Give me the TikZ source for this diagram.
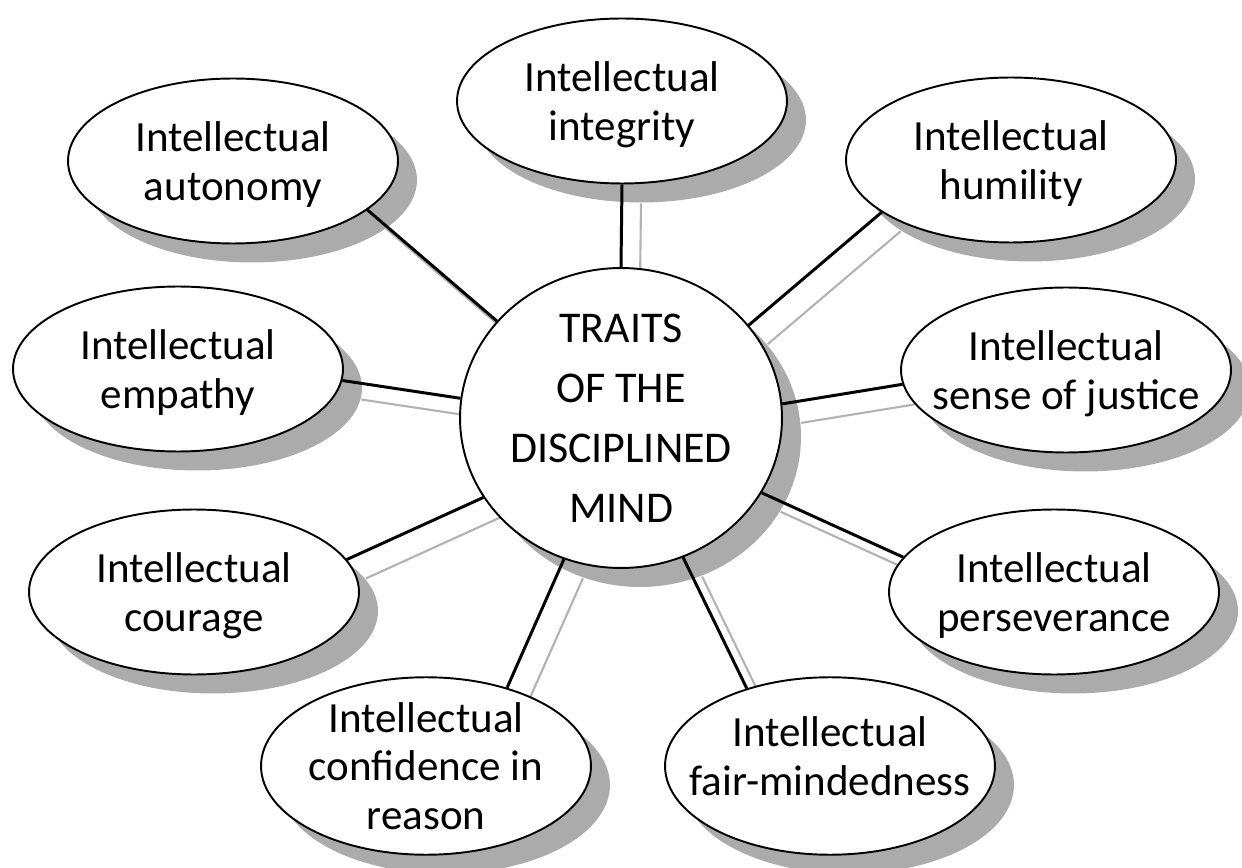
\documentclass[tikz,border=0pt]{standalone}
\usepackage{fontspec}
\setmainfont{Carlito}
\usetikzlibrary{shapes,positioning,shadows}
\usetikzlibrary{backgrounds}

\begin{document}
\begin{tikzpicture}[x=0.02cm,y=-0.02cm,
    trait/.style={ellipse, draw=black, line width=1.1pt, fill=white,
      minimum width=6.6cm, minimum height=3.3cm, inner xsep=-0.6cm, inner ysep=-0.2cm,
      align=center, text depth=0pt, font=\fontsize{24.5}{27.5}\selectfont,
      drop shadow={shadow xshift=0.38cm, shadow yshift=-0.38cm, fill=black!33, opacity=1}},
    core/.style={trait, minimum width=6.44cm, minimum height=6cm, inner sep=-0.3cm,
      font=\fontsize{25}{34.2}\selectfont},
    link/.style={line width=1.7pt, black},
    linkshadow/.style={line width=1.2pt, black!30}]
            \useasboundingbox (0,0) rectangle (1242,868);
            \node[core] (mind) at (621,418) {TRAITS\\OF THE\\DISCIPLINED\\MIND};
            \node[trait] (autonomy) at (233,161) {Intellectual\\autonomy};
            \node[trait] (integrity) at (622,101) {Intellectual\\integrity};
            \node[trait] (humility) at (1011,160) {Intellectual\\humility};
            \node[trait] (justice) at (1066,370) {Intellectual\\sense of justice};
            \node[trait] (perseverance) at (1054,592) {Intellectual\\perseverance};
            \node[trait, minimum height=3.55cm, text depth=0.4cm] (fairness) at (830,766) {Intellectual\\fair-mindedness};
            \node[trait, minimum height=3.55cm] (confidence) at (426,766) {Intellectual\\confidence in\\reason};
            \node[trait] (courage) at (194,592) {Intellectual\\courage};
            \node[trait] (empathy) at (178,369) {Intellectual\\empathy};
            % spokes and their shadows
            \foreach \trait/\a/\b in {autonomy/-20.8/142.7, integrity/-90/90, humility/-158/36.7,
                justice/-175.8/5.6, perseverance/167.4/-28.8, fairness/137.5/-66.4,
                confidence/44.6/-112.3, courage/12.5/-150.1, empathy/-4.5/173.6} {
                \draw[link] (\trait.\a) -- (mind.\b);
                \begin{scope}[on background layer]
                    \draw[linkshadow] ([shift={(19,19)}]\trait.\a) -- ([shift={(19,19)}]mind.\b);
                \end{scope}
            }
\end{tikzpicture}
\end{document}
